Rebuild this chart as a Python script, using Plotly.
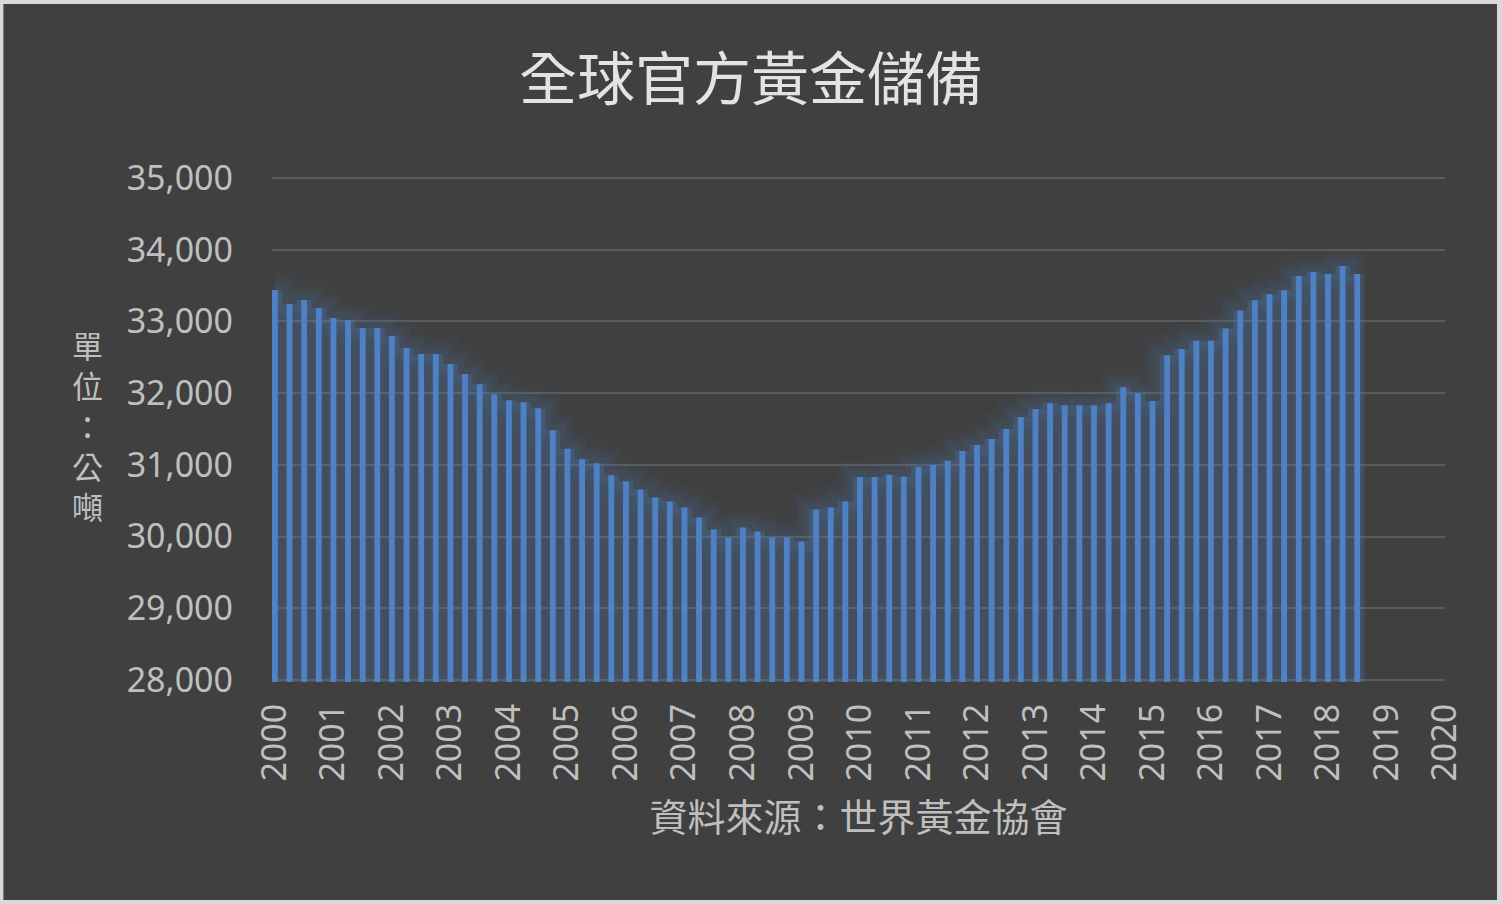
import plotly.graph_objects as go

# quarterly official gold reserves (tonnes), 2000Q1 .. 2018Q3
years = [y for y in range(2000, 2019) for q in range(4)][:75]
quarters = [q for y in range(2000, 2019) for q in range(1, 5)][:75]
reserves = [
    33441, 33245, 33300, 33189,
    33049, 33021, 32909, 32909,
    32797, 32629, 32545, 32545,
    32406, 32266, 32126, 31986,
    31902, 31874, 31790, 31483,
    31225, 31077, 31021, 30853,
    30769, 30657, 30545, 30490,
    30406, 30266, 30098, 29986,
    30126, 30070, 29986, 29986,
    29930, 30378, 30406, 30490,
    30830, 30830, 30861, 30833,
    30972, 31000, 31056, 31194,
    31278, 31361, 31500, 31667,
    31778, 31861, 31833, 31833,
    31833, 31861, 32083, 32000,
    31889, 32530, 32615, 32732,
    32732, 32901, 33155, 33296,
    33380, 33437, 33634, 33690,
    33662, 33775, 33662,
]
x = [y + (q - 1) / 4 for y, q in zip(years, quarters)]
year_ticks = list(range(2000, 2021))

CJK = "Noto Sans CJK TC"
LAT = "Noto Sans"
BAR = "#4f81c4"

data = []
# soft glow behind the bars
for w, a in [(34, 0.05), (22, 0.07), (12, 0.09)]:
    data.append(go.Scatter(x=x, y=reserves, mode="lines",
                           line=dict(color="rgba(79,129,196,%s)" % a, width=w, shape="hvh"),
                           hoverinfo="skip", showlegend=False))
data.append(go.Bar(x=x, y=reserves, width=0.25,
                   marker=dict(color="rgba(79,129,196,0.24)", line=dict(width=0)),
                   hoverinfo="skip", showlegend=False))
data.append(go.Bar(x=x, y=reserves, width=0.1,
                   marker=dict(color=BAR, line=dict(width=0)),
                   showlegend=False))

layout = go.Layout(
    width=1502, height=904,
    paper_bgcolor="#d9d9d9", plot_bgcolor="#404040",
    margin=dict(l=272, r=57, t=176, b=222),
    barmode="overlay",
    title=dict(text="全球官方黃金儲備", x=0.5, xref="container", xanchor="center",
               y=0.9115, yref="container", yanchor="middle",
               font=dict(family=CJK, size=58, color="#e3e3e3")),
    xaxis=dict(range=[1999.95, 2020.0], tickvals=year_ticks, ticktext=[str(v) for v in year_ticks],
               tickangle=-90, showgrid=False, zeroline=False, showline=False,
               ticks="", ticklabelstandoff=14,
               tickfont=dict(family=LAT, size=34, color="#bfbfbf"),
               title=dict(text="資料來源：世界黃金協會", standoff=23,
                          font=dict(family=CJK, size=38, color="#bfbfbf"))),
    yaxis=dict(range=[27970, 35030], tickvals=list(range(28000, 35001, 1000)), tickformat=",d",
               showgrid=True, gridcolor="#5a5a5a", gridwidth=1.5,
               zeroline=False, showline=False, ticks="", ticklabelstandoff=38,
               tickfont=dict(family=LAT, size=34, color="#bfbfbf")),
    shapes=[dict(type="rect", xref="paper", yref="paper", layer="below",
                 x0=-0.2290, x1=1.0443, y0=-0.4308, y1=1.3399,
                 fillcolor="#404040", line=dict(width=0))],
    annotations=[dict(text="單<br>位<br>：<br>公<br>噸", xref="paper", yref="paper",
                      x=-0.1577, y=0.507, xanchor="center", yanchor="middle",
                      showarrow=False, align="center",
                      font=dict(family=CJK, size=31, color="#bfbfbf"))],
)

fig = go.Figure(data=data, layout=layout)
fig.write_html("out.html", config={"displayModeBar": False},
               post_script="document.body.style.margin='0px';")
